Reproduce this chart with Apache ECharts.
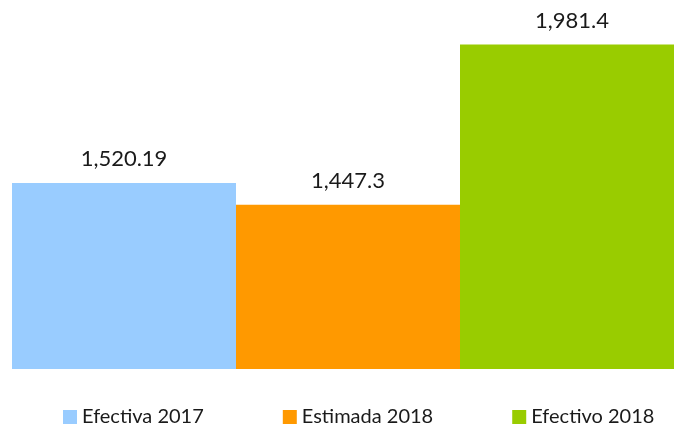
<!doctype html>
<html lang="es">
<head>
    <meta charset="UTF-8">
    <title>Efectiva vs Estimada</title>
    <script src="https://cdn.jsdelivr.net/npm/echarts@6/dist/echarts.min.js"></script>
    <style>
        html, body { margin: 0; padding: 0; background: #fff; overflow: hidden; }
        /* the last bar runs past the right edge of the picture */
        #chart { width: 684px; height: 425px; }
    </style>
</head>
<body>
<div id="chart"></div>
<script>
    var seriesNames = ['Efectiva 2017', 'Estimada 2018', 'Efectivo 2018'];
    var seriesValues = [1520.19, 1447.3, 1981.4];
    var valueLabels = ['1,520.19', '1,447.3', '1,981.4'];
    var seriesColors = ['#99ccff', '#ff9900', '#99cc00'];

    var myChart = echarts.init(document.getElementById('chart'));

    var series = [];
    for (var i = 0; i < seriesNames.length; i++) {
        series.push({
            name: seriesNames[i],
            type: 'bar',
            data: [seriesValues[i]],
            barGap: '0%',
            barCategoryGap: '0%',
            itemStyle: { color: seriesColors[i] },
            label: {
                show: true,
                position: 'top',
                distance: 13,
                color: '#1a1a1a',
                fontSize: 22,
                fontFamily: 'Lato',
                formatter: (function (txt) { return function () { return txt; }; })(valueLabels[i])
            }
        });
    }

    var option = {
        animation: false,
        grid: { left: 12, top: 39, width: 672, height: 330 },
        legend: {
            top: 402,
            left: 58,
            width: 640,
            itemWidth: 14,
            itemHeight: 14,
            itemGap: 79,
            icon: 'rect',
            textStyle: { fontSize: 20, fontFamily: 'Lato', color: '#1a1a1a' },
            data: seriesNames
        },
        xAxis: {
            type: 'category',
            data: [''],
            axisLine: { show: false },
            axisTick: { show: false },
            axisLabel: { show: false }
        },
        yAxis: {
            type: 'value',
            min: 900,
            max: 2000,
            show: false,
            splitLine: { show: false }
        },
        series: series
    };
    myChart.setOption(option);
</script>
</body>
</html>
